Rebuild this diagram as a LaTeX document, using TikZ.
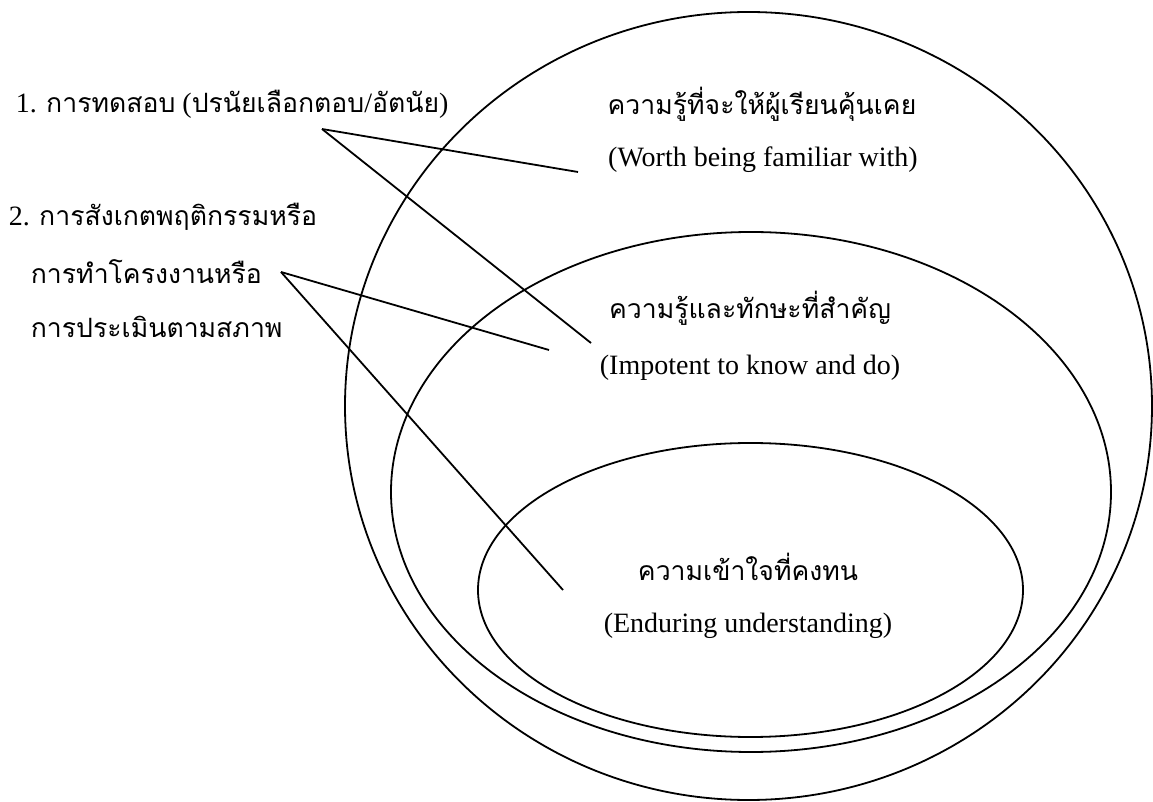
\documentclass[tikz,border=0pt]{standalone}
\usepackage{fontspec}
\setmainfont{Liberation Serif}
\newfontfamily\thaifont[Script=Thai,Scale=0.95]{Loma}
\usetikzlibrary{arrows}

\begin{document}
\begin{tikzpicture}[x=0.5pt,y=-0.5pt,line width=0.9pt,font=\fontsize{14}{17}\selectfont]
\tikzstyle{txt} = [inner sep=0pt, anchor=center]
\tikzstyle{lefttxt} = [inner sep=0pt, anchor=west]
\tikzstyle{link} = [-, line width=0.9pt]

\useasboundingbox (0,0) rectangle (1153,802);

% nested circles
\draw (748.5,406) ellipse [x radius=403.5, y radius=394];
\draw (751,492) ellipse [x radius=360, y radius=260];
\draw (750.5,590) ellipse [x radius=272.5, y radius=147];

\node (fam) at (762,104) [txt] {\thaifont ความรู้ที่จะให้ผู้เรียนคุ้นเคย};
\node (famen) at (763,160) [txt] {(Worth being familiar with)};
\node (imp) at (750,308) [txt] {\thaifont ความรู้และทักษะที่สำคัญ};
\node (impen) at (750,368) [txt] {(Impotent to know and do)};
\node (end) at (748,567) [txt] {\thaifont ความเข้าใจที่คงทน};
\node (enden) at (748,626) [txt] {(Enduring understanding)};

\node (test) at (15,104) [lefttxt] {1. {\thaifont การทดสอบ} ({\thaifont ปรนัยเลือกตอบ}/{\thaifont อัตนัย})};
\node (obs) at (8,217) [lefttxt] {2. {\thaifont การสังเกตพฤติกรรมหรือ}};
\node (proj) at (30,272) [lefttxt] {\thaifont การทำโครงงานหรือ};
\node (auth) at (30,327) [lefttxt] {\thaifont การประเมินตามสภาพ};

\coordinate (a) at (322,129);
\coordinate (b) at (281,272);
\coordinate (afam) at (578,172);
\coordinate (aimp) at (591,343);
\coordinate (bimp) at (549,350);
\coordinate (bend) at (563,590);

\path
    (a) edge [link] (afam)
        edge [link] (aimp)
    (b) edge [link] (bimp)
        edge [link] (bend);

\end{tikzpicture}
\end{document}
